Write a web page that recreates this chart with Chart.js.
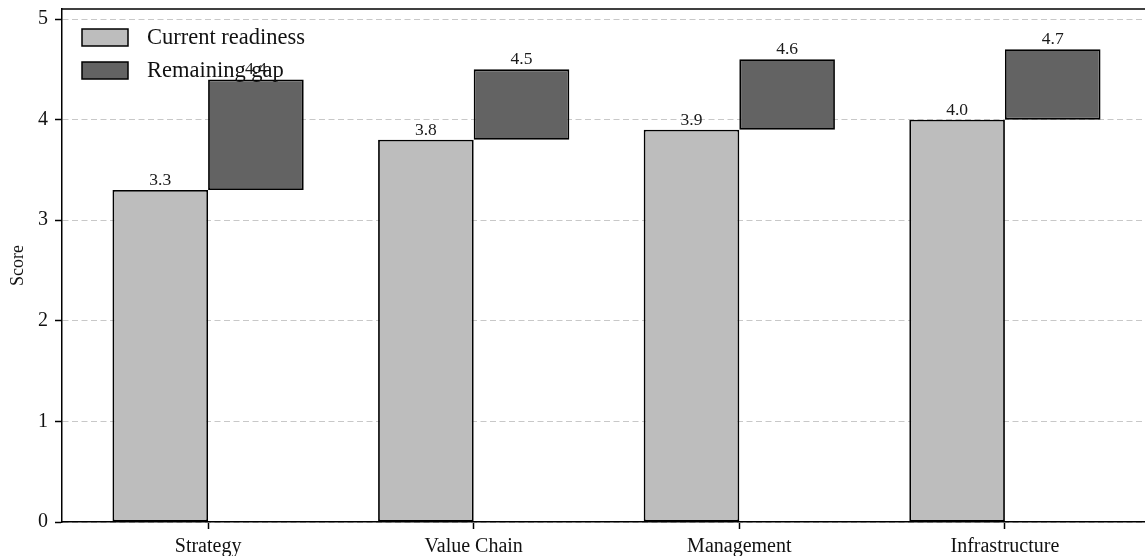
<!DOCTYPE html>
<html>
<head>
<meta charset="utf-8">
<script src="https://cdn.jsdelivr.net/npm/chart.js@4.4.0/dist/chart.umd.min.js"></script>
<style>
  html, body { margin: 0; padding: 0; overflow: hidden; background: #ffffff; }
  canvas { display: block; }
</style>
</head>
<body>
<canvas id="chart" width="1160" height="556"></canvas>
<script>
// Readiness assessment by dimension
const categories = ['Strategy', 'Value Chain', 'Management', 'Infrastructure'];
const currentReadiness = [3.3, 3.8, 3.9, 4.0];
const targetScore = [4.4, 4.5, 4.6, 4.7];
const yTickValues = [0, 1, 2, 3, 4, 5];
const seriesNames = ['Current readiness', 'Remaining gap'];

const FONT = "'Liberation Serif', 'Times New Roman', serif";
const LIGHT = '#bdbdbd';
const DARK = '#636363';

// Frame line along the top of the plot area
const topFrame = {
  id: 'topFrame',
  afterDraw(chart) {
    const { ctx, chartArea } = chart;
    ctx.save();
    ctx.strokeStyle = '#000';
    ctx.lineWidth = 1.5;
    ctx.beginPath();
    ctx.moveTo(chartArea.left - 0.75, chartArea.top);
    ctx.lineTo(chartArea.right, chartArea.top);
    ctx.stroke();
    ctx.restore();
  }
};

// Value labels above each bar
const valueLabels = {
  id: 'valueLabels',
  afterDatasetsDraw(chart) {
    const { ctx } = chart;
    const yScale = chart.scales.y;
    ctx.save();
    ctx.font = `17.5px ${FONT}`;
    ctx.fillStyle = '#1a1a1a';
    ctx.textAlign = 'center';
    ctx.textBaseline = 'alphabetic';
    const sources = [currentReadiness, targetScore];
    sources.forEach((values, d) => {
      const meta = chart.getDatasetMeta(d);
      meta.data.forEach((bar, i) => {
        const y = yScale.getPixelForValue(values[i]);
        ctx.fillText(values[i].toFixed(1), bar.x, y - 5);
      });
    });
    ctx.restore();
  }
};

// Legend placed inside the plot, upper left
const insetLegend = {
  id: 'insetLegend',
  afterDraw(chart) {
    const { ctx, chartArea } = chart;
    const x0 = chartArea.left + 20;
    const y0 = chartArea.top + 20;
    const rowGap = 33;
    ctx.save();
    ctx.font = `22.5px ${FONT}`;
    ctx.textBaseline = 'middle';
    ctx.textAlign = 'left';
    chart.data.datasets.forEach((ds, i) => {
      const y = y0 + i * rowGap;
      ctx.fillStyle = ds.backgroundColor;
      ctx.fillRect(x0, y, 46, 17);
      ctx.strokeStyle = '#000';
      ctx.lineWidth = 1.5;
      ctx.strokeRect(x0, y, 46, 17);
      ctx.fillStyle = '#111';
      ctx.fillText(ds.label, x0 + 65, y + 9);
    });
    ctx.restore();
  }
};

new Chart(document.getElementById('chart'), {
  type: 'bar',
  data: {
    datasets: [
      {
        label: seriesNames[0],
        data: currentReadiness.map((v, i) => ({ x: i, y: v })),
        backgroundColor: LIGHT,
        borderColor: '#000',
        borderWidth: 1.8,
        borderSkipped: false
      },
      {
        label: seriesNames[1],
        data: targetScore.map((v, i) => ({ x: i, y: [currentReadiness[i], v] })),
        backgroundColor: DARK,
        borderColor: '#000',
        borderWidth: 1.8,
        borderSkipped: false
      }
    ]
  },
  options: {
    responsive: false,
    animation: false,
    devicePixelRatio: 1,
    categoryPercentage: 0.72,
    barPercentage: 1.0,
    layout: { padding: { top: 9, right: 9, left: 0, bottom: 0 } },
    plugins: {
      legend: { display: false },
      tooltip: { enabled: false }
    },
    scales: {
      x: {
        type: 'linear',
        offset: false,
        min: -0.55,
        max: 3.55,
        afterBuildTicks(scale) {
          scale.ticks = categories.map((_, i) => ({ value: i }));
        },
        afterFit(scale) {
          scale.height = 34;
          scale.paddingLeft = 0;
          scale.paddingRight = 0;
        },
        ticks: {
          autoSkip: false,
          maxRotation: 0,
          padding: 6,
          color: '#111',
          font: { family: FONT, size: 20 },
          callback: (v) => categories[v]
        },
        grid: {
          offset: false,
          drawOnChartArea: false,
          drawTicks: true,
          tickLength: 7,
          tickWidth: 1.5,
          tickColor: '#000'
        },
        border: { display: true, color: '#000', width: 1.5 }
      },
      y: {
        min: 0,
        max: 5.1,
        afterBuildTicks(scale) {
          scale.ticks = yTickValues.map(v => ({ value: v }));
        },
        afterFit(scale) {
          scale.width = 62;
          scale.paddingTop = 0;
          scale.paddingBottom = 0;
        },
        title: {
          display: true,
          text: 'Score',
          color: '#111',
          font: { family: FONT, size: 18 },
          padding: { top: 7, bottom: 0 }
        },
        ticks: {
          padding: 7,
          color: '#111',
          font: { family: FONT, size: 20 }
        },
        grid: {
          color: '#c8c8c8',
          lineWidth: 1,
          tickLength: 7,
          tickWidth: 1.5,
          tickColor: '#000',
          tickBorderDash: []
        },
        border: { display: true, color: '#000', width: 1.5, dash: [6, 3.5] }
      }
    }
  },
  plugins: [topFrame, valueLabels, insetLegend]
});
</script>
</body>
</html>
